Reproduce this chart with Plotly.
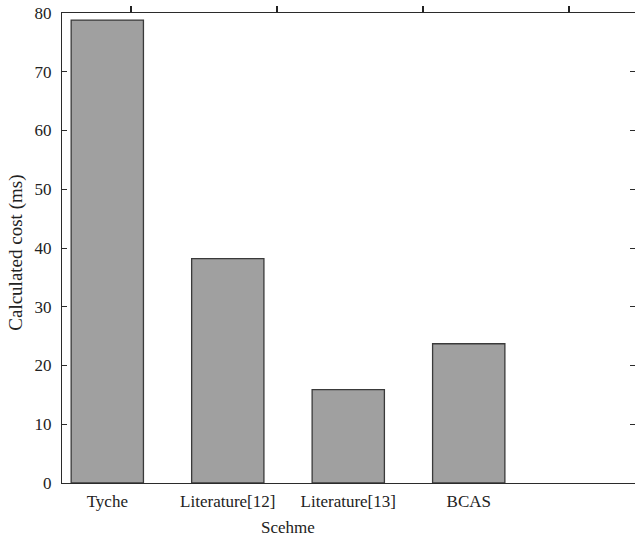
import plotly.graph_objects as go

categories = ["Tyche", "Literature[12]", "Literature[13]", "BCAS"]
values = [78.8, 38.2, 15.9, 23.7]
positions = [1, 2, 3, 4]
y_ticks = [0, 10, 20, 30, 40, 50, 60, 70, 80]
top_ticks = [1, 2, 3, 4]

FONT = "Liberation Serif"
AX = "#2b2b2b"
TXT = "#222"

fig = go.Figure()
# invisible trace on the top (primary) x axis
fig.add_trace(go.Scatter(
    x=top_ticks, y=values, xaxis="x", yaxis="y", mode="markers",
    marker=dict(opacity=0), showlegend=False, hoverinfo="skip",
))
# bars on the bottom category axis
fig.add_trace(go.Bar(
    x=positions, y=values, width=0.6, xaxis="x2", yaxis="y",
    marker=dict(color="#a0a0a0", line=dict(color="#3a3a3a", width=1.3)),
    showlegend=False, hoverinfo="skip",
))

fig.update_layout(
    width=635, height=542,
    margin=dict(l=62, r=0, t=13, b=59, autoexpand=False),
    paper_bgcolor="white", plot_bgcolor="white",
    font=dict(family=FONT, size=17, color=TXT),
    xaxis=dict(
        side="top", range=[0.529, 4.454],
        tickmode="array", tickvals=top_ticks, showticklabels=False,
        automargin=False,
        ticks="outside", ticklen=6, tickcolor="#222", tickwidth=1.6,
        showline=True, linecolor=AX, linewidth=1.2, showgrid=False, zeroline=False,
    ),
    xaxis2=dict(
        overlaying="x", side="bottom", anchor="y",
        range=[0.624, 5.38], tickvals=positions, ticktext=categories,
        ticks="", showline=True, linecolor=AX, linewidth=1.2, automargin=False,
        showgrid=False, zeroline=False, ticklabelstandoff=2,
    ),
    yaxis=dict(
        range=[0, 80], tickvals=y_ticks, automargin=False,
        ticks="inside", ticklen=5, tickcolor=AX, tickwidth=1,
        mirror="ticks", showline=True, linecolor=AX, linewidth=1.2,
        showgrid=False, zeroline=False, ticklabelstandoff=6,
    ),
    annotations=[
        dict(text="Scehme", x=2.5, xref="x2",
             y=-(527 - 483) / (483 - 13), yref="paper", yanchor="middle",
             showarrow=False, font=dict(family=FONT, size=17, color=TXT)),
        dict(text="Calculated cost (ms)", x=-(62 - 16) / (635 - 62), xref="paper",
             xanchor="center", y=39.2, yref="y", yanchor="middle",
             textangle=-90, showarrow=False,
             font=dict(family=FONT, size=19, color=TXT)),
    ],
)

fig.write_html(
    "out.html",
    config={"displayModeBar": False},
    post_script="document.body.style.margin='0';document.body.style.overflow='hidden';",
)
